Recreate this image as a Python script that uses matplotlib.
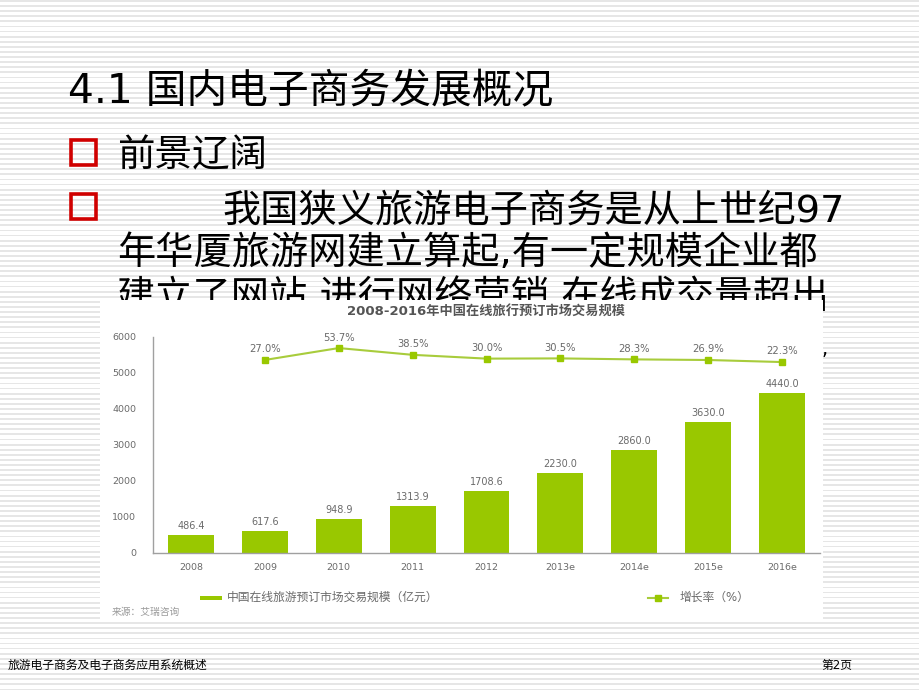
import matplotlib
matplotlib.use('Agg')
import matplotlib.pyplot as plt
import numpy as np

plt.rcParams['font.family'] = ['DejaVu Sans', 'Noto Sans CJK SC']

# chart data
years = ['2008', '2009', '2010', '2011', '2012', '2013e', '2014e', '2015e', '2016e']
scale = [486.4, 617.6, 948.9, 1313.9, 1708.6, 2230.0, 2860.0, 3630.0, 4440.0]
growth_years = ['2009', '2010', '2011', '2012', '2013e', '2014e', '2015e', '2016e']
growth = [27.0, 53.7, 38.5, 30.0, 30.5, 28.3, 26.9, 22.3]
yticks = [0, 1000, 2000, 3000, 4000, 5000, 6000]

slide_title = '4.1 国内电子商务发展概况'
bullet1 = '前景辽阔'
body_lines = ['我国狭义旅游电子商务是从上世纪97',
              '年华厦旅游网建立算起,有一定规模企业都',
              '建立了网站,进行网络营销,在线成交量超出']
chart_title = '2008-2016年中国在线旅行预订市场交易规模'
bar_label = '中国在线旅游预订市场交易规模（亿元）'
line_label = '增长率（%）'
source = '来源：艾瑞咨询'
footer_left = '旅游电子商务及电子商务应用系统概述'
footer_right = '第2页'

W, H = 920, 690
green = '#99c800'
gray = '#6a6a6a'

fig = plt.figure(figsize=(W / 100, H / 100), dpi=100)
fig.patch.set_facecolor('white')

def px(x, y):
    return x / W, 1 - y / H

# striped slide background
bg = fig.add_axes([0, 0, 1, 1], zorder=-1)
bg.set_xlim(0, W)
bg.set_ylim(H, 0)
bg.axis('off')
for y0 in np.arange(0, H, 5.1):
    bg.axhspan(y0, y0 + 1.8, color='#e6e6e6', lw=0)

# slide text
fig.text(*px(68, 103.5), slide_title, fontsize=29.3, va='baseline', color='black')
for sy in [138, 192]:
    bg.add_patch(plt.Rectangle((71.5, sy + 1.5), 25, 25, fill=False,
                               edgecolor='#d00000', lw=2.6))
fig.text(*px(117, 166.5), bullet1, fontsize=27, va='baseline', color='black')
fig.text(*px(222, 221.5), body_lines[0], fontsize=27.5, va='baseline', color='black')
fig.text(*px(117, 264.5), body_lines[1], fontsize=27.5, va='baseline', color='black')
t3 = fig.text(*px(117, 307.5), body_lines[2], fontsize=27.5, va='baseline', color='black')
fig.text(*px(822, 355), ',', fontsize=14, va='baseline', color='black')

fig.text(*px(8, 665), footer_left, fontsize=8.5, va='center', color='black')
fig.text(*px(821, 665), footer_right, fontsize=8.5, va='center', color='black')

# chart picture area
cb = fig.add_axes([100 / W, 1 - 620 / H, 723 / W, 320 / H], zorder=5)
cb.set_facecolor('white')
cb.set_xlim(100, 823)
cb.set_ylim(620, 300)
cb.set_xticks([])
cb.set_yticks([])
for s in cb.spines.values():
    s.set_visible(False)

cb.text(486, 312, chart_title, fontsize=9.5, fontweight='bold', color='#555555',
        ha='center', va='center')
cb.add_patch(plt.Rectangle((200, 595.5), 22, 4, color=green, lw=0))
cb.text(227, 597.5, bar_label, fontsize=8.5, color=gray, va='center')
cb.plot([648, 668], [597.5, 597.5], color='#a8cc3c', lw=1.5)
cb.plot([658], [597.5], marker='s', ms=4.5, color=green)
cb.text(680, 597.5, line_label, fontsize=8.5, color=gray, va='center')
cb.text(112, 612, source, fontsize=7, color='#9a9a9a', va='center')

# main chart
ax = fig.add_axes([153 / W, 1 - 553 / H, (820 - 153) / W, (553 - 337) / H], zorder=6)
ax.set_facecolor('none')
x = np.arange(len(years))
ax.bar(x, scale, width=0.62, color=green)
for xi, v in zip(x, scale):
    ax.annotate('%.1f' % v, (xi, v), xytext=(0, 3), textcoords='offset points',
                ha='center', va='bottom', fontsize=7, color=gray)
ax.set_xlim(-0.514, len(years) - 1 + 0.514)
ax.set_ylim(0, 6000)
ax.set_yticks(yticks)
ax.set_xticks(x)
ax.set_xticklabels(years)
ax.tick_params(length=0, labelsize=6.8, colors=gray, pad=12)
ax.tick_params(axis='x', pad=7)
for s in ['top', 'right']:
    ax.spines[s].set_visible(False)
for s in ['left', 'bottom']:
    ax.spines[s].set_color('#a0a0a0')
    ax.spines[s].set_linewidth(1)

ax2 = ax.twinx()
ax2.set_zorder(7)
gx = [years.index(g) for g in growth_years]
ax2.plot(gx, growth, color='#a8cc3c', lw=1.5, marker='s', ms=4.5,
         markerfacecolor=green, markeredgecolor=green)
for xi, v in zip(gx, growth):
    ax2.annotate('%.1f%%' % v, (xi, v), xytext=(0, 4), textcoords='offset points',
                 ha='center', va='bottom', fontsize=7.2, color=gray)
ax2.set_ylim(-406, 78.5)
ax2.set_yticks([])
for s in ax2.spines.values():
    s.set_visible(False)

plt.savefig('out.png', dpi=100)
